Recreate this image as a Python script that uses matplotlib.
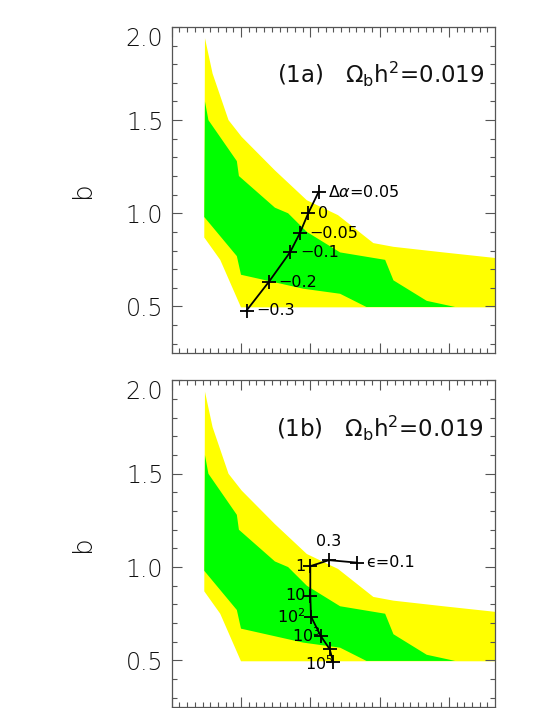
import numpy as np
import matplotlib
matplotlib.use("Agg")
import matplotlib.pyplot as plt
from matplotlib.ticker import MultipleLocator

###############################################################################
# Data (x has no labels, one unit = one major tick)
# -----------------------------------------------------------------------------
# outer (yellow) allowed region
yellow_upper_x = [0.47, 0.48, 0.59, 0.82, 1.01, 1.49, 1.95, 2.40, 2.91, 3.20, 3.92, 4.67]
yellow_upper_y = [0.87, 1.94, 1.75, 1.50, 1.41, 1.23, 1.07, 0.99, 0.84, 0.82, 0.79, 0.76]
yellow_lower_x = [0.47, 0.70, 1.00, 4.67]
yellow_lower_y = [0.87, 0.75, 0.495, 0.495]

# inner (green) allowed region
green_upper_x = [0.47, 0.48, 0.53, 0.94, 0.97, 1.49, 1.68, 1.95, 2.43, 3.08, 3.20, 3.68, 4.09]
green_upper_y = [0.98, 1.60, 1.50, 1.28, 1.20, 1.03, 1.00, 0.90, 0.79, 0.75, 0.64, 0.53, 0.497]
green_lower_x = [0.47, 0.94, 1.00, 1.90, 2.43, 2.81, 4.09]
green_lower_y = [0.98, 0.77, 0.67, 0.595, 0.568, 0.497, 0.497]

# panel (1a): shift in alpha
alpha_labels = [r"$\Delta\alpha$=0.05", "0", "\u22120.05", "\u22120.1", "\u22120.2", "\u22120.3"]
alpha_x = [2.12, 1.97, 1.85, 1.71, 1.40, 1.08]
alpha_b = [1.115, 1.0, 0.894, 0.792, 0.631, 0.478]

# panel (1b): epsilon sequence
eps_labels = ["\u03f5=0.1", "0.3", "1", "10", r"10$^{2}$", r"10$^{3}$", "", r"10$^{5}$"]
eps_x = [2.67, 2.27, 2.00, 2.00, 2.01, 2.15, 2.28, 2.33]
eps_b = [1.024, 1.037, 1.005, 0.845, 0.735, 0.631, 0.56, 0.492]

panel_titles = [r"(1a)   $\Omega_{\rm b}$h$^{2}$=0.019", r"(1b)   $\Omega_{\rm b}$h$^{2}$=0.019"]

###############################################################################
# Style
# -----
plt.rcParams['font.family'] = ['DejaVu Sans']
plt.rcParams['mathtext.fontset'] = 'dejavusans'
axis_color = '#555555'
yellow = '#ffff00'
green = '#00ff00'

fig = plt.figure(figsize=(5.47, 7.08), dpi=100)
ax_a = fig.add_axes([0.3139, 0.5014, 0.591, 0.4605])
ax_b = fig.add_axes([0.3139, 0.0014, 0.591, 0.4612])


def draw_regions(ax):
    yx = np.concatenate([yellow_upper_x, yellow_lower_x[::-1]])
    yy = np.concatenate([yellow_upper_y, yellow_lower_y[::-1]])
    ax.fill(yx, yy, color=yellow, lw=0, zorder=1)
    gx = np.concatenate([green_upper_x, green_lower_x[::-1]])
    gy = np.concatenate([green_upper_y, green_lower_y[::-1]])
    ax.fill(gx, gy, color=green, lw=0, zorder=2)


def style_axes(ax, title):
    ax.set_xlim(0, 4.665)
    ax.set_ylim(0.25, 2.0)
    ax.xaxis.set_major_locator(MultipleLocator(1))
    ax.xaxis.set_minor_locator(MultipleLocator(1 / 9))
    ax.yaxis.set_minor_locator(MultipleLocator(0.1))
    ax.tick_params(which='both', direction='in', top=True, right=True,
                   labelbottom=False, color=axis_color, width=0.8)
    ax.tick_params(which='major', length=7, pad=6)
    ax.tick_params(which='minor', length=3.6)
    ax.set_yticks([0.5, 1.0, 1.5, 2.0])
    ax.set_yticklabels(["0.5", "1.0", "1.5", "2.0"], fontsize=17,
                       fontweight=200, color='#111111')
    ax.get_yticklabels()[-1].set_va('top')
    for sp in ax.spines.values():
        sp.set_color(axis_color)
        sp.set_linewidth(0.9)
    ax.text(-0.277, 0.5, "b", transform=ax.transAxes, rotation=90,
            ha='center', va='center', fontsize=19, fontweight=200, color='#111111')
    ax.text(0.966, 0.828, title, transform=ax.transAxes, ha='right',
            va='baseline', fontsize=16.5, color='#111111')


###############################################################################
# Panel (1a)
# ----------
draw_regions(ax_a)
ax_a.plot(alpha_x, alpha_b, color='black', lw=1.3, marker='+', ms=10, mew=1.3, zorder=3)
for lab, xv, yv in zip(alpha_labels, alpha_x, alpha_b):
    ax_a.annotate(lab, (xv, yv), xytext=(7, 0), textcoords='offset points',
                  ha='left', va='center', fontsize=11.5, zorder=4)
style_axes(ax_a, panel_titles[0])

###############################################################################
# Panel (1b)
# ----------
draw_regions(ax_b)
ax_b.plot(eps_x, eps_b, color='black', lw=1.3, marker='+', ms=10, mew=1.3, zorder=3)
# label placement around each cross
eps_offsets = [(6.5, 0), (0, 8), (-3.5, 0), (-3.5, 0), (-4, 0), (0, 0), (0, 0), (0, -1)]
eps_ha = ['left', 'center', 'right', 'right', 'right', 'right', 'right', 'right']
eps_va = ['center', 'bottom', 'center', 'center', 'center', 'center', 'center', 'center']
for i, lab in enumerate(eps_labels):
    if not lab:
        continue
    ax_b.annotate(lab, (eps_x[i], eps_b[i]), xytext=eps_offsets[i], textcoords='offset points',
                  ha=eps_ha[i], va=eps_va[i], fontsize=11.5, zorder=4)
style_axes(ax_b, panel_titles[1])

fig.savefig("out.png", dpi=100)
